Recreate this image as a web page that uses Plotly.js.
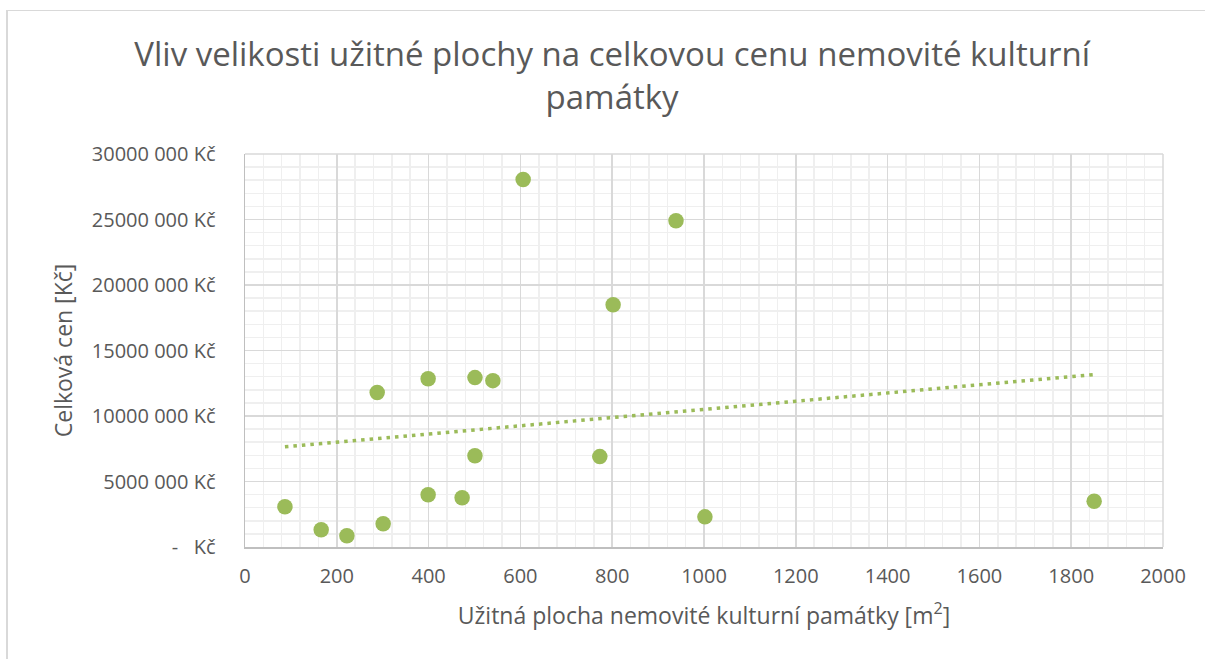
<!DOCTYPE html>
<html>
<head>
<meta charset="utf-8">
<script src="https://cdn.plot.ly/plotly-3.0.1.min.js"></script>
<style>
html,body{margin:0;padding:0;background:#fff;}
#chart{width:1205px;height:659px;position:absolute;left:0;top:0;}
#frame{position:absolute;left:6px;top:10px;width:1205px;height:659px;border-left:2px solid #d9d9d9;border-top:1px solid #d9d9d9;pointer-events:none;}
</style>
</head>
<body>
<div id="chart"></div>
<div id="frame"></div>
<script>
// Užitná plocha [m2]
const plocha = [87, 166, 222, 301, 288, 399, 399, 473, 501, 501, 540, 606, 773, 802, 939, 1002, 1850];
// Celková cena [Kč]
const cena = [3080000, 1320000, 860000, 1780000, 11800000, 3990000, 12850000, 3760000, 6970000, 12930000, 12700000, 28050000, 6900000, 18500000, 24900000, 2300000, 3500000];

const xTicks = [0, 200, 400, 600, 800, 1000, 1200, 1400, 1600, 1800, 2000];
const yTicks = [0, 5000000, 10000000, 15000000, 20000000, 25000000, 30000000];
const yTickText = ['-   Kč', '5000 000 Kč', '10000 000 Kč', '15000 000 Kč', '20000 000 Kč', '25000 000 Kč', '30000 000 Kč'];

// linear trendline (least squares) from the data
const n = plocha.length;
const mx = plocha.reduce((a,b)=>a+b,0)/n;
const my = cena.reduce((a,b)=>a+b,0)/n;
let sxy = 0, sxx = 0;
for (let i=0;i<n;i++){ sxy += (plocha[i]-mx)*(cena[i]-my); sxx += (plocha[i]-mx)**2; }
const slope = sxy/sxx, icpt = my - slope*mx;
const xmin = Math.min(...plocha), xmax = Math.max(...plocha);
const trendX = [xmin, xmax];
const trendY = trendX.map(v => icpt + slope*v);

const green = '#9BBB59';
const txt = '#595959';
const font = '"Open Sans", Lato, sans-serif';

const traces = [
  {x: trendX, y: trendY, type:'scatter', mode:'lines',
   line:{color:green, width:3.5, dash:'3.5px,5px'}, hoverinfo:'skip', showlegend:false},
  {x: plocha, y: cena, type:'scatter', mode:'markers',
   marker:{color:green, size:15.5}, showlegend:false}
];

const layout = {
  width:1205, height:659,
  paper_bgcolor:'#fff', plot_bgcolor:'#fff',
  margin:{l:245, r:42, t:154, b:112},
  font:{family:font, color:txt},
  title:{text:'Vliv velikosti užitné plochy na celkovou cenu nemovité kulturní<br>památky',
         font:{size:33, color:txt, family:font}, x:0.508, xanchor:'center', y:0.9, yanchor:'top'},
  xaxis:{range:[0,2000], tickvals:xTicks, ticktext:xTicks.map(String),
         showgrid:true, gridcolor:'#d9d9d9', gridwidth:1.5,
         minor:{dtick:40, tick0:0, showgrid:true, gridcolor:'#efefef', gridwidth:1.5},
         showline:true, linecolor:'#bfbfbf', linewidth:1.5, zeroline:false,
         ticks:'', tickfont:{size:20, color:txt}, ticklabelstandoff:10,
         title:{text:'Užitná plocha nemovité kulturní památky [m<sup>2</sup>]', font:{size:23, color:txt}, standoff:20}},
  yaxis:{range:[0,30000000], tickvals:yTicks, ticktext:yTickText,
         showgrid:true, gridcolor:'#d9d9d9', gridwidth:1.5,
         minor:{dtick:1000000, tick0:0, showgrid:true, gridcolor:'#efefef', gridwidth:1.5},
         showline:true, linecolor:'#bfbfbf', linewidth:1.5, zeroline:false,
         ticks:'', tickfont:{size:20, color:txt}, ticklabelstandoff:24,
         title:{text:'Celková cen [Kč]', font:{size:23, color:txt}, standoff:12}},
  shapes:[{type:'line', xref:'paper', yref:'paper', x0:1, x1:1, y0:0, y1:1, line:{color:'#d9d9d9', width:1.5}},
          {type:'line', xref:'paper', yref:'paper', x0:0, x1:1, y0:1, y1:1, line:{color:'#d9d9d9', width:1.5}}]
};

Plotly.newPlot('chart', traces, layout, {displayModeBar:false, staticPlot:true});
</script>
</body>
</html>
